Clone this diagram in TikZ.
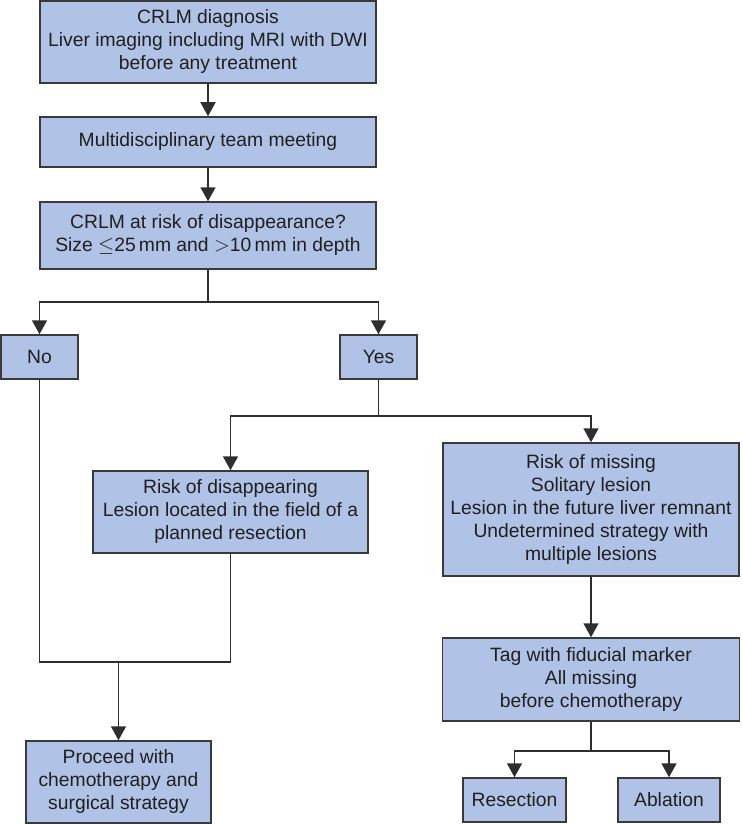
\documentclass[tikz,border=0pt]{standalone}
\usepackage{fontspec}
\setmainfont{Liberation Sans}
\usetikzlibrary{arrows.meta}
\definecolor{boxfill}{HTML}{B0C3E6}
\definecolor{boxline}{HTML}{3A3A3A}
\definecolor{conn}{HTML}{2E2E2E}
\tikzset{
  box/.style={draw=boxline, fill=boxfill, line width=1.5pt, rectangle, inner sep=0pt, align=center,
    font=\fontsize{19.3}{23}\selectfont, text=black!88},
  link/.style={draw=conn, line width=1.6pt},
  arr/.style={link, -{Triangle[width=15pt,length=14pt]}}
}
\begin{document}
\begin{tikzpicture}[x=1pt,y=-1pt]
\useasboundingbox (0,0) rectangle (742,824);
\node[box, minimum width=336pt, minimum height=82pt] (b1) at (208,42) {CRLM diagnosis\\Liver imaging including MRI with DWI\\before any treatment};
\node[box, minimum width=336pt, minimum height=50pt] (b2) at (208,142) {Multidisciplinary team meeting};
\node[box, minimum width=336pt, minimum height=67pt] (b3) at (208,235.5) {CRLM at risk of disappearance?\\Size $\leq$25\,mm and $>$10\,mm in depth};
\node[box, minimum width=77pt, minimum height=44pt] (no) at (39.5,357) {No};
\node[box, minimum width=77pt, minimum height=44pt] (yes) at (378.5,357) {Yes};
\node[box, minimum width=275pt, minimum height=82pt] (rd) at (230.5,512) {Risk of disappearing\\Lesion located in the field of a\\planned resection};
\node[box, minimum width=296pt, minimum height=133pt] (rm) at (591,509.5) {Risk of missing\\Solitary lesion\\Lesion in the future liver remnant\\Undetermined strategy with\\multiple lesions};
\node[box, minimum width=297pt, minimum height=83pt] (tag) at (591,679.5) {Tag with fiducial marker\\All missing\\before chemotherapy};
\node[box, minimum width=185pt, minimum height=82pt] (proc) at (118.5,782) {Proceed with\\chemotherapy and\\surgical strategy};
\node[box, minimum width=103pt, minimum height=44pt] (res) at (514.5,800) {Resection};
\node[box, minimum width=102pt, minimum height=44pt] (abl) at (669,800) {Ablation};

\coordinate (j1) at (208,302);
\coordinate (j2) at (378.5,416);
\coordinate (j3) at (118.5,662);
\coordinate (j4) at (591,751);

\draw[arr] (b1) -- (b2);
\draw[arr] (b2) -- (b3);
\draw[link] (b3.south) -- (j1);
\draw[arr] (j1) -| (no.north);
\draw[arr] (j1) -| (yes.north);
\draw[link] (yes.south) -- (j2);
\draw[arr] (j2) -| (rd.north);
\draw[arr] (j2) -| (rm.north);
\draw[link] (no.south) |- (j3);
\draw[link] (rd.south) |- (j3);
\draw[arr] (j3) -- (proc.north);
\draw[arr] (rm) -- (tag);
\draw[link] (tag.south) -- (j4);
\draw[arr] (j4) -| (res.north);
\draw[arr] (j4) -| (abl.north);
\end{tikzpicture}
\end{document}
